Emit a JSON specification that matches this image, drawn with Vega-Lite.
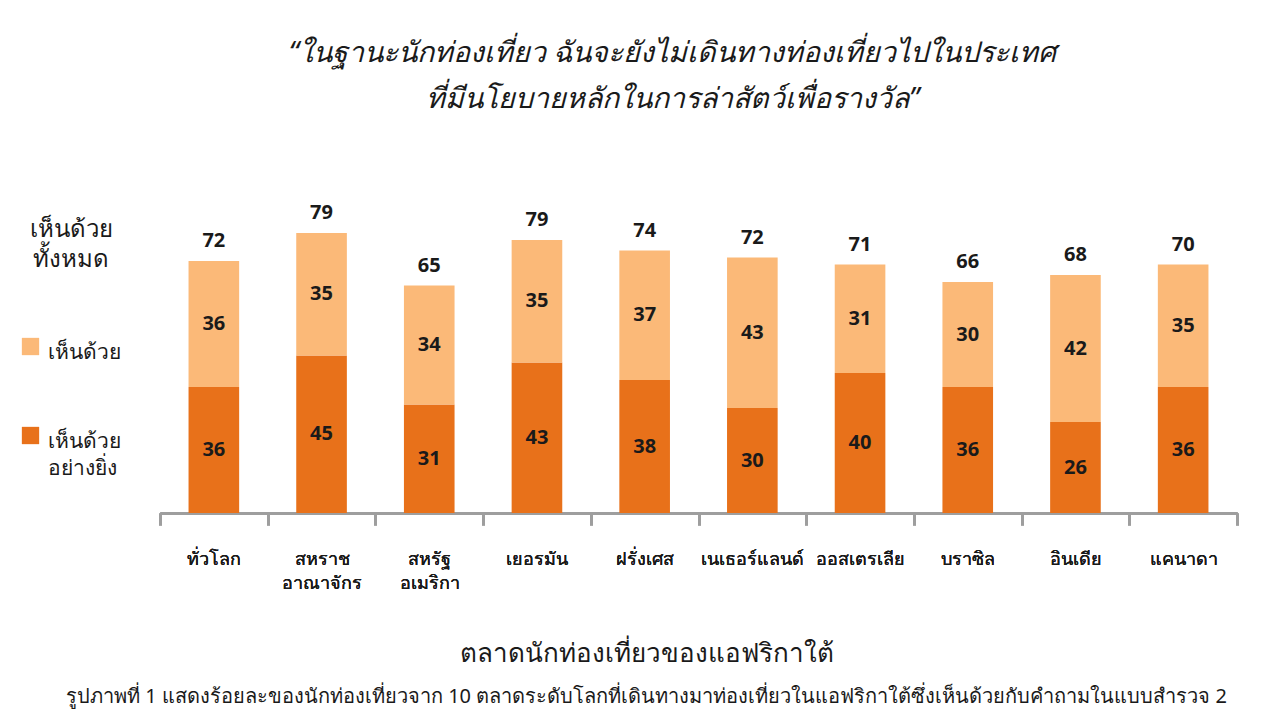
{
  "$schema": "https://vega.github.io/schema/vega-lite/v6.json",
  "autosize": "none",
  "width": 1077,
  "height": 350,
  "padding": {"left": 160, "top": 163, "right": 43, "bottom": 207},
  "background": "white",
  "config": {
    "font": "Noto Sans",
    "view": {"stroke": null}
  },
  "title": {
    "text": "ตลาดนักท่องเที่ยวของแอฟริกาใต้",
    "subtitle": "รูปภาพที่ 1 แสดงร้อยละของนักท่องเที่ยวจาก 10 ตลาดระดับโลกที่เดินทางมาท่องเที่ยวในแอฟริกาใต้ซึ่งเห็นด้วยกับคำถามในแบบสำรวจ 2",
    "orient": "bottom",
    "anchor": "middle",
    "dx": -52,
    "offset": 34,
    "fontSize": 26,
    "fontWeight": "normal",
    "color": "#1a1a1a",
    "subtitleFontSize": 20,
    "subtitleColor": "#1a1a1a",
    "subtitlePadding": 20
  },
  "data": {
    "values": [
      {"country": "ทั่วโลก", "type": "เห็นด้วย อย่างยิ่ง", "value": 36, "total": 72},
      {"country": "ทั่วโลก", "type": "เห็นด้วย", "value": 36, "total": 72},
      {"country": "สหราช อาณาจักร", "type": "เห็นด้วย อย่างยิ่ง", "value": 45, "total": 79},
      {"country": "สหราช อาณาจักร", "type": "เห็นด้วย", "value": 35, "total": 79},
      {"country": "สหรัฐ อเมริกา", "type": "เห็นด้วย อย่างยิ่ง", "value": 31, "total": 65},
      {"country": "สหรัฐ อเมริกา", "type": "เห็นด้วย", "value": 34, "total": 65},
      {"country": "เยอรมัน", "type": "เห็นด้วย อย่างยิ่ง", "value": 43, "total": 79},
      {"country": "เยอรมัน", "type": "เห็นด้วย", "value": 35, "total": 79},
      {"country": "ฝรั่งเศส", "type": "เห็นด้วย อย่างยิ่ง", "value": 38, "total": 74},
      {"country": "ฝรั่งเศส", "type": "เห็นด้วย", "value": 37, "total": 74},
      {"country": "เนเธอร์แลนด์", "type": "เห็นด้วย อย่างยิ่ง", "value": 30, "total": 72},
      {"country": "เนเธอร์แลนด์", "type": "เห็นด้วย", "value": 43, "total": 72},
      {"country": "ออสเตรเลีย", "type": "เห็นด้วย อย่างยิ่ง", "value": 40, "total": 71},
      {"country": "ออสเตรเลีย", "type": "เห็นด้วย", "value": 31, "total": 71},
      {"country": "บราซิล", "type": "เห็นด้วย อย่างยิ่ง", "value": 36, "total": 66},
      {"country": "บราซิล", "type": "เห็นด้วย", "value": 30, "total": 66},
      {"country": "อินเดีย", "type": "เห็นด้วย อย่างยิ่ง", "value": 26, "total": 68},
      {"country": "อินเดีย", "type": "เห็นด้วย", "value": 42, "total": 68},
      {"country": "แคนาดา", "type": "เห็นด้วย อย่างยิ่ง", "value": 36, "total": 70},
      {"country": "แคนาดา", "type": "เห็นด้วย", "value": 35, "total": 70}
    ]
  },
  "encoding": {
    "x": {
      "field": "country",
      "type": "nominal",
      "sort": null,
      "scale": {"paddingInner": 0, "paddingOuter": 0},
      "axis": {
        "orient": "bottom",
        "title": "ตลาดนักท่องเที่ยวของแอฟริกาใต้",
        "titleOpacity": 0,
        "labelAngle": 0,
        "labelExpr": "split(datum.label, ' ')",
        "labelFontSize": 18,
        "labelFontWeight": "normal",
        "labelColor": "#1a1a1a",
        "labelPadding": 25,
        "labelLineHeight": 24,
        "labelBaseline": "top",
        "domainColor": "#9e9e9e",
        "domainWidth": 3,
        "tickColor": "#9e9e9e",
        "tickWidth": 3,
        "tickSize": 12,
        "tickBand": "extent"
      }
    }
  },
  "layer": [
    {
      "mark": {"type": "bar", "width": {"band": 0.47}},
      "encoding": {
        "y": {
          "field": "value",
          "type": "quantitative",
          "stack": "zero",
          "scale": {"domain": [0, 100]},
          "axis": null
        },
        "color": {
          "field": "type",
          "type": "nominal",
          "scale": {
            "domain": ["เห็นด้วย", "เห็นด้วย อย่างยิ่ง"],
            "range": ["#FBB978", "#E8711A"]
          },
          "legend": {
            "orient": "none",
            "legendX": -140,
            "legendY": 55,
            "title": ["เห็นด้วย", "ทั้งหมด"],
            "titleFontSize": 24,
            "titleFontWeight": "normal",
            "titleColor": "#1a1a1a",
            "titleLineHeight": 30,
            "titlePadding": 64,
            "titleAnchor": "middle",
            "symbolType": "square",
            "symbolSize": 300,
            "symbolStrokeWidth": 0,
            "symbolOpacity": 1,
            "labelFontSize": 21,
            "labelColor": "#1a1a1a",
            "labelExpr": "split(datum.label, ' ')",
            "labelBaseline": "top",
            "labelOffset": 7,
            "rowPadding": 62,
            "encode": {
              "labels": {
                "update": {
                  "lineHeight": {"value": 27},
                  "dy": {"value": -5}
                }
              }
            }
          }
        },
        "order": {"field": "type", "sort": "descending"}
      }
    },
    {
      "transform": [
        {"stack": "value", "groupby": ["country"], "sort": [{"field": "type", "order": "descending"}], "as": ["y0", "y1"]},
        {"calculate": "(datum.y0 + datum.y1) / 2", "as": "mid"}
      ],
      "mark": {"type": "text", "fontSize": 20, "fontWeight": "bold", "color": "#1a1a1a", "baseline": "middle"},
      "encoding": {
        "y": {"field": "mid", "type": "quantitative"},
        "text": {"field": "value", "type": "quantitative"}
      }
    },
    {
      "transform": [
        {"aggregate": [{"op": "sum", "field": "value", "as": "top"}, {"op": "max", "field": "total", "as": "total"}], "groupby": ["country"]}
      ],
      "mark": {"type": "text", "fontSize": 20, "fontWeight": "bold", "color": "#1a1a1a", "baseline": "middle", "dy": -20},
      "encoding": {
        "y": {"field": "top", "type": "quantitative"},
        "text": {"field": "total", "type": "quantitative"}
      }
    },
    {
      "mark": {"type": "text", "opacity": 0},
      "encoding": {
        "x": {
          "field": "country",
          "type": "nominal",
          "sort": null,
          "axis": {
            "orient": "top",
            "title": ["“ในฐานะนักท่องเที่ยว ฉันจะยังไม่เดินทางท่องเที่ยวไปในประเทศ", "ที่มีนโยบายหลักในการล่าสัตว์เพื่อรางวัล”"],
            "titleFontSize": 28.5,
            "titleFontStyle": "italic",
            "titleFontWeight": "normal",
            "titleColor": "#1a1a1a",
            "titleLineHeight": 46,
            "titlePadding": 50,
            "titleX": 512,
            "labels": false,
            "ticks": false,
            "domain": false
          }
        },
        "text": {"value": ""}
      }
    }
  ],
  "resolve": {"axis": {"x": "independent"}}
}
